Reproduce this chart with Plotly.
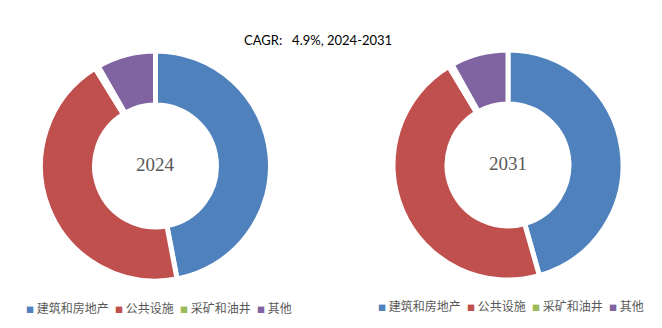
import plotly.graph_objects as go

# Segment shares (%) by end-use, for each year
categories = ["建筑和房地产", "公共设施", "采矿和油井", "其他"]
share_2024 = [47.0, 44.2, 0.5, 8.3]
share_2031 = [45.6, 45.8, 0.5, 8.1]
years = ["2024", "2031"]
cagr_text = "CAGR:\u00a0\u00a0\u00a04.9%, 2024-2031"

colors = ["#4F81BD", "#C0504D", "#9BBB59", "#8064A2"]

W, H = 662, 328

# pixel geometry of each donut: (center x, center y, radius)
donuts = [(155.5, 166, 115), (508, 165, 115)]


def domain(cx, cy, r):
    return dict(x=[(cx - r) / W, (cx + r) / W],
                y=[1 - (cy + r) / H, 1 - (cy - r) / H])


fig = go.Figure()
for vals, (cx, cy, r) in zip([share_2024, share_2031], donuts):
    fig.add_trace(go.Pie(
        labels=categories, values=vals, hole=0.53,
        sort=False, direction="clockwise", rotation=0,
        marker=dict(colors=colors, line=dict(color="white", width=5)),
        textinfo="none", hoverinfo="label+percent",
        domain=domain(cx, cy, r), showlegend=False,
    ))

annotations = []
# year labels in the donut holes
for yr, (cx, cy, r) in zip(years, donuts):
    annotations.append(dict(
        text=yr, x=cx / W, y=1 - (cy - 2) / H, xref="paper", yref="paper",
        showarrow=False, xanchor="center", yanchor="middle",
        font=dict(family="Liberation Serif", size=19, color="#595959"),
    ))

# title
annotations.append(dict(
    text=cagr_text, x=318 / W, y=1 - 40 / H, xref="paper", yref="paper",
    showarrow=False, xanchor="center", yanchor="middle",
    font=dict(family="Lato", size=13, color="#000000"),
))

# per-donut legends below each chart
legend_rows = [(24, 307), (376, 305)]
for x0, ly in legend_rows:
    x = x0
    for name, col in zip(categories, colors):
        annotations.append(dict(
            text=f"<span style='color:{col};font-size:8px'>■</span>\u00a0{name}",
            x=x / W, y=1 - ly / H, xref="paper", yref="paper",
            showarrow=False, xanchor="left", yanchor="middle",
            font=dict(family="Noto Sans CJK SC", size=12, color="#595959"),
        ))
        x += 17 + 12 * len(name)

fig.update_layout(
    width=W, height=H,
    margin=dict(l=0, r=0, t=0, b=0),
    paper_bgcolor="white", plot_bgcolor="white",
    annotations=annotations,
)

fig.write_html("out.html")
